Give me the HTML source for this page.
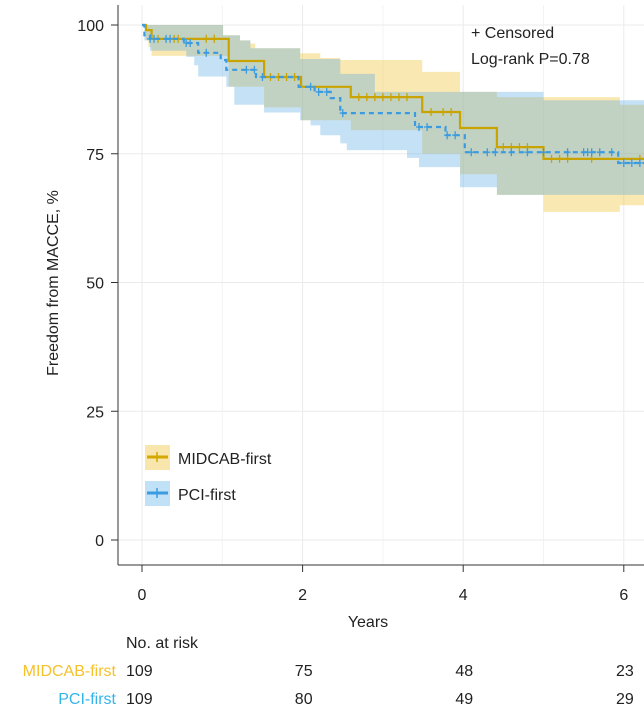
<!DOCTYPE html>
<html><head><meta charset="utf-8"><style>
body{margin:0;background:#fff;}
svg text{font-family:"Liberation Sans",Arial,sans-serif;}
</style></head><body>
<svg id="chart" width="644" height="709" viewBox="0 0 644 709" xmlns="http://www.w3.org/2000/svg">
<defs><clipPath id="clip"><rect x="118" y="5" width="526" height="560"/></clipPath></defs>
<g id="grid"></g>
<g id="bands" clip-path="url(#clip)"></g>
<g id="lines" clip-path="url(#clip)"></g>
<g id="axes"></g>
<text x="368" y="627" font-size="16" text-anchor="middle" fill="#222">Years</text>
<text transform="translate(58,283) rotate(-90)" font-size="16" text-anchor="middle" fill="#222">Freedom from MACCE, %</text>
<text x="471" y="38" font-size="16" fill="#222">+ Censored</text>
<text x="471" y="64" font-size="16" fill="#222">Log-rank P=0.78</text>
<g>
<g>
<rect x="145" y="445" width="25" height="25" fill="rgba(240,200,70,0.45)"/>
<line x1="147" y1="457" x2="168" y2="457" stroke="#d4a800" stroke-width="3"/>
<line x1="157" y1="452" x2="157" y2="462" stroke="#d4a800" stroke-width="1.5"/>
<text x="178" y="464" font-size="16" fill="#222">MIDCAB-first</text></g>
<g>
<rect x="145" y="481" width="25" height="25" fill="rgba(100,180,235,0.4)"/>
<line x1="147" y1="493" x2="168" y2="493" stroke="#3a9be0" stroke-width="3"/>
<line x1="157" y1="488" x2="157" y2="498" stroke="#3a9be0" stroke-width="1.5"/>
<text x="178" y="500" font-size="16" fill="#222">PCI-first</text></g>
</g>
<g id="risk">
<text x="126" y="648" font-size="16" fill="#222">No. at risk</text>
</g>
</svg>
<script>
const xTicks=[0,2,4,6];
const yTicks=[0,25,50,75,100];
const riskTimes=[0,2,4,6];
const riskMidcab=[109,75,48,23];
const riskPci=[109,80,49,29];
const midcabT=[0,0.05,0.12,1.08,1.52,1.98,2.6,3.49,3.96,4.42,5.0,6.4];
const midcabV=[100,99,97.3,93,89.9,88,86,83.1,80,76.3,74,74];
const midcabUpT=[0,1.01,1.22,1.35,1.41,1.97,2.22,2.47,3.49,3.96,4.42,5.95,6.4];
const midcabUpV=[100,98,97,96.4,95.5,94.5,93.6,93.2,90.9,87,86,84.5,84.5];
const midcabLoT=[0,0.05,0.08,0.12,1.08,1.52,1.98,2.6,3.49,3.96,4.42,5.0,5.95,6.4];
const midcabLoV=[100,97,95.7,94,88,84,81.5,79.6,75,71,67,63.7,65,65];
const pciT=[0,0.03,0.1,0.52,0.7,0.98,1.05,1.42,1.95,2.15,2.35,2.47,3.4,3.78,4.02,5.93,6.4];
const pciV=[100,98,97.3,96.5,94.6,93.2,91.3,89.9,88,87,85.8,82.9,80.2,78.6,75.3,73.2,73.2];
const pciUpT=[0,1.01,1.22,1.35,1.97,2.47,2.9,5.0,6.4];
const pciUpV=[100,98,97,95.5,93.4,90.5,87,85.4,85.4];
const pciLoT=[0,0.03,0.1,0.55,0.65,0.7,1.05,1.15,1.52,1.97,2.1,2.22,2.47,2.55,3.3,3.45,3.96,4.42,6.4];
const pciLoV=[100,97,95,93.8,92.2,90,88,84.5,83,81.5,80.5,78.6,77,75.7,74.2,72.4,68.5,67,67];
const midcabCens=[0.2,0.4,0.45,0.8,0.9,1.6,1.7,1.8,1.9,2.7,2.8,2.9,3.0,3.1,3.2,3.3,3.6,3.75,3.85,4.5,4.6,4.7,4.8,5.1,5.2,5.3,5.6,6.2];
const pciCens=[0.1,0.15,0.3,0.35,0.55,0.6,0.8,1.3,1.4,1.5,2.1,2.2,2.3,2.5,3.45,3.55,3.8,3.9,4.1,4.3,4.4,4.6,4.8,5.0,5.3,5.5,5.55,5.6,5.7,5.85,6.0,6.1,6.2];
const NS='http://www.w3.org/2000/svg';
const X=t=>142+t*80.3;
const Y=v=>540-v*5.15;
function mk(tag,attrs,parent){const e=document.createElementNS(NS,tag);for(const k in attrs)e.setAttribute(k,attrs[k]);parent.appendChild(e);return e;}
const grid=document.getElementById('grid'),axes=document.getElementById('axes');
[1,3,5].forEach(t=>mk('line',{x1:X(t),x2:X(t),y1:5,y2:565,stroke:'#f3f3f3'},grid));
xTicks.forEach(t=>{const l=mk('line',{x1:X(t),x2:X(t),y1:5,y2:565,stroke:'#ebebeb','stroke-width':1},grid);


mk('line',{x1:X(t),x2:X(t),y1:565,y2:572,stroke:'#333'},axes);
const tx=mk('text',{x:X(t),y:600,'font-size':16,'text-anchor':'middle',fill:'#222'},axes);tx.textContent=t;

});
yTicks.forEach(v=>{const l=mk('line',{x1:118,x2:644,y1:Y(v),y2:Y(v),stroke:'#ebebeb'},grid);


mk('line',{x1:111,x2:118,y1:Y(v),y2:Y(v),stroke:'#333'},axes);
const tx=mk('text',{x:104,y:Y(v)+6,'font-size':16,'text-anchor':'end',fill:'#222'},axes);tx.textContent=v;

});
mk('line',{x1:118,x2:118,y1:5,y2:565,stroke:'#333'},axes);
mk('line',{x1:118,x2:644,y1:565,y2:565,stroke:'#333'},axes);
function stepPts(T,V){let p=[];for(let i=0;i<T.length;i++){if(i>0)p.push([X(T[i]),Y(V[i-1])]);p.push([X(T[i]),Y(V[i])]);}return p;}
function band(UT,UV,LT,LV,fill,name){const up=stepPts(UT,UV),lo=stepPts(LT,LV).reverse();
const d='M'+up.concat(lo).map(p=>p[0].toFixed(1)+','+p[1].toFixed(1)).join('L')+'Z';
const e=mk('path',{d:d,fill:fill},document.getElementById('bands'));

}
band(midcabUpT,midcabUpV,midcabLoT,midcabLoV,'rgba(240,200,70,0.42)','midcab-ci-band');
band(pciUpT,pciUpV,pciLoT,pciLoV,'rgba(90,170,230,0.35)','pci-ci-band');
function valAt(T,V,t){let v=V[0];for(let i=0;i<T.length;i++){if(T[i]<=t)v=V[i];}return v;}
function curve(T,V,cens,color,dash,name){const lines=document.getElementById('lines');
const d='M'+stepPts(T,V).map(p=>p[0].toFixed(1)+','+p[1].toFixed(1)).join('L');
const e=mk('path',{d:d,fill:'none',stroke:color,'stroke-width':2.2,'stroke-dasharray':dash},lines);


cens.forEach(t=>{const x=X(t),y=Y(valAt(T,V,t));
const c=mk('path',{d:`M${x-3},${y}L${x+3},${y}M${x},${y-4}L${x},${y+4}`,stroke:color,'stroke-width':1.3},lines);

});}
curve(midcabT,midcabV,midcabCens,'#c9a400','none','midcab-curve');
curve(pciT,pciV,pciCens,'#3a9be0','5,4','pci-curve');
const risk=document.getElementById('risk');
function riskRow(label,vals,y,color,name){const l=mk('text',{x:116,y:y,'font-size':16,'text-anchor':'end',fill:color},risk);l.textContent=label;


vals.forEach((n,i)=>{const t=mk('text',{x:i==0?126:X(riskTimes[i])+10,y:y,'font-size':16,'text-anchor':i==0?'start':'end',fill:'#222'},risk);t.textContent=n;

});}
riskRow('MIDCAB-first',riskMidcab,676,'#f5c22a','risk-midcab');
riskRow('PCI-first',riskPci,704,'#35b4ea','risk-pci');
</script>
</body></html>
